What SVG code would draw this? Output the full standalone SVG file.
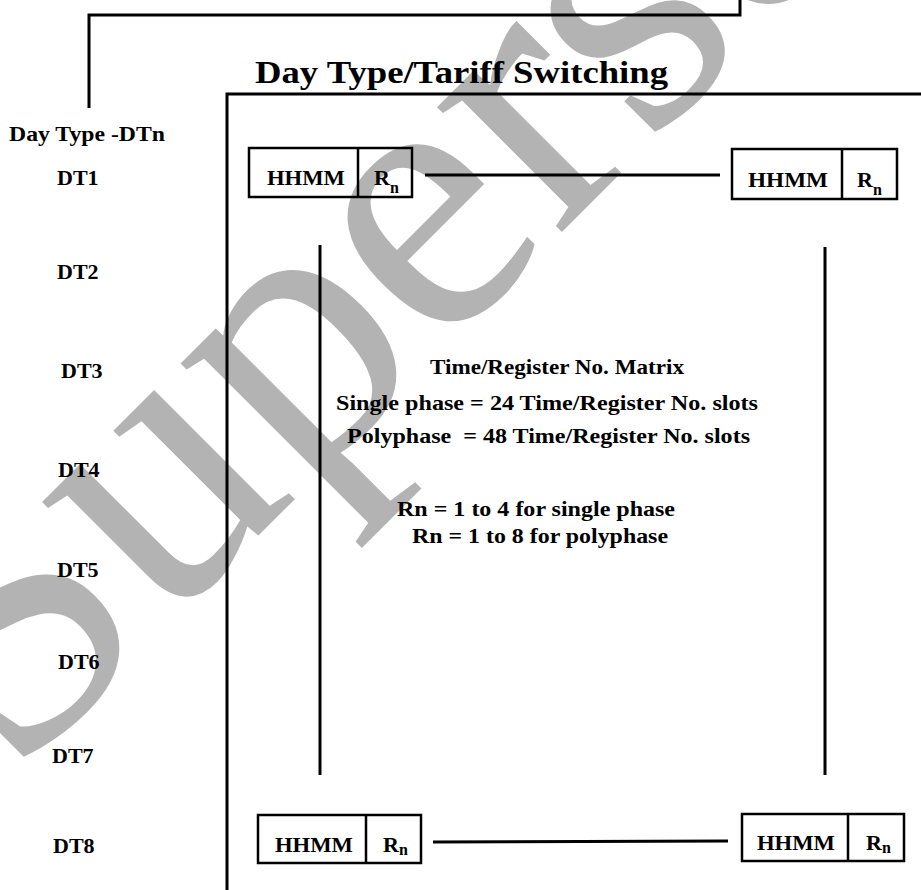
<svg xmlns="http://www.w3.org/2000/svg" width="921" height="890" viewBox="0 0 921 890">
<style>
.wm{font-family:"Liberation Serif","Times New Roman",serif;font-size:385px;fill:#b3b3b3}
.t{font-family:"Liberation Serif","Times New Roman",serif;font-weight:bold;fill:#000}
.lbl{font-size:22px}
.sub{font-size:16px}
.ln{stroke:#000;stroke-width:3;fill:none}
.box{stroke:#000;stroke-width:2.5;fill:none}
</style>
<rect width="921" height="890" fill="#fff"/>
<g id="watermark">
<text class="wm" x="12" y="782" transform="rotate(-45 12 782)">Superseded</text>
</g>
<g id="connectors">
<path class="ln" d="M740,0 V15 H89 V108"/>
<path class="ln" d="M227,890 V94 H921"/>
<line class="ln" x1="425" y1="175" x2="720" y2="175"/>
<line class="ln" x1="433" y1="842" x2="728" y2="841"/>
<line class="ln" x1="320" y1="245" x2="320" y2="775"/>
<line class="ln" x1="825" y1="247" x2="825" y2="775"/>
</g>
<g id="title">
<text class="t" x="255" y="83" font-size="32" textLength="413" lengthAdjust="spacingAndGlyphs">Day Type/Tariff Switching</text>
</g>
<g id="labels">
<text class="t lbl" x="9" y="141" textLength="156" lengthAdjust="spacingAndGlyphs">Day Type -DTn</text>
<text class="t lbl" x="57" y="185">DT1</text>
<text class="t lbl" x="57" y="279">DT2</text>
<text class="t lbl" x="61" y="378">DT3</text>
<text class="t lbl" x="58" y="477">DT4</text>
<text class="t lbl" x="57" y="577">DT5</text>
<text class="t lbl" x="58" y="669">DT6</text>
<text class="t lbl" x="52" y="763">DT7</text>
<text class="t lbl" x="53" y="853">DT8</text>
</g>
<g id="box-top-left">
<rect class="box" x="249" y="148" width="163" height="49"/>
<line class="box" x1="358" y1="148" x2="358" y2="197"/>
<text class="t lbl" x="267" y="185" textLength="78" lengthAdjust="spacingAndGlyphs">HHMM</text>
<text class="t lbl" x="374" y="185">R<tspan class="sub" x="390" y="193">n</tspan></text>
</g>
<g id="box-top-right">
<rect class="box" x="732" y="149" width="165" height="50"/>
<line class="box" x1="842" y1="149" x2="842" y2="199"/>
<text class="t lbl" x="748" y="187" textLength="80" lengthAdjust="spacingAndGlyphs">HHMM</text>
<text class="t lbl" x="857" y="187">R<tspan class="sub" x="873" y="195">n</tspan></text>
</g>
<g id="box-bottom-left">
<rect class="box" x="258" y="815" width="163" height="48"/>
<line class="box" x1="366" y1="815" x2="366" y2="863"/>
<text class="t lbl" x="275" y="852" textLength="78" lengthAdjust="spacingAndGlyphs">HHMM</text>
<text class="t lbl" x="383" y="852">R<tspan class="sub" x="399" y="855">n</tspan></text>
</g>
<g id="box-bottom-right">
<rect class="box" x="742" y="814" width="162" height="47"/>
<line class="box" x1="848" y1="814" x2="848" y2="861"/>
<text class="t lbl" x="757" y="850" textLength="78" lengthAdjust="spacingAndGlyphs">HHMM</text>
<text class="t lbl" x="866" y="850">R<tspan class="sub" x="882" y="853">n</tspan></text>
</g>
<g id="matrix-text">
<text class="t lbl" x="430" y="374" textLength="254" lengthAdjust="spacingAndGlyphs">Time/Register No. Matrix</text>
<text class="t lbl" x="336" y="410" textLength="422" lengthAdjust="spacingAndGlyphs">Single phase = 24 Time/Register No. slots</text>
<text class="t lbl" x="347" y="443" textLength="403" lengthAdjust="spacingAndGlyphs" xml:space="preserve">Polyphase  = 48 Time/Register No. slots</text>
<text class="t lbl" x="397" y="516" textLength="278" lengthAdjust="spacingAndGlyphs">Rn = 1 to 4 for single phase</text>
<text class="t lbl" x="412" y="543" textLength="256" lengthAdjust="spacingAndGlyphs">Rn = 1 to 8 for polyphase</text>
</g>
</svg>
